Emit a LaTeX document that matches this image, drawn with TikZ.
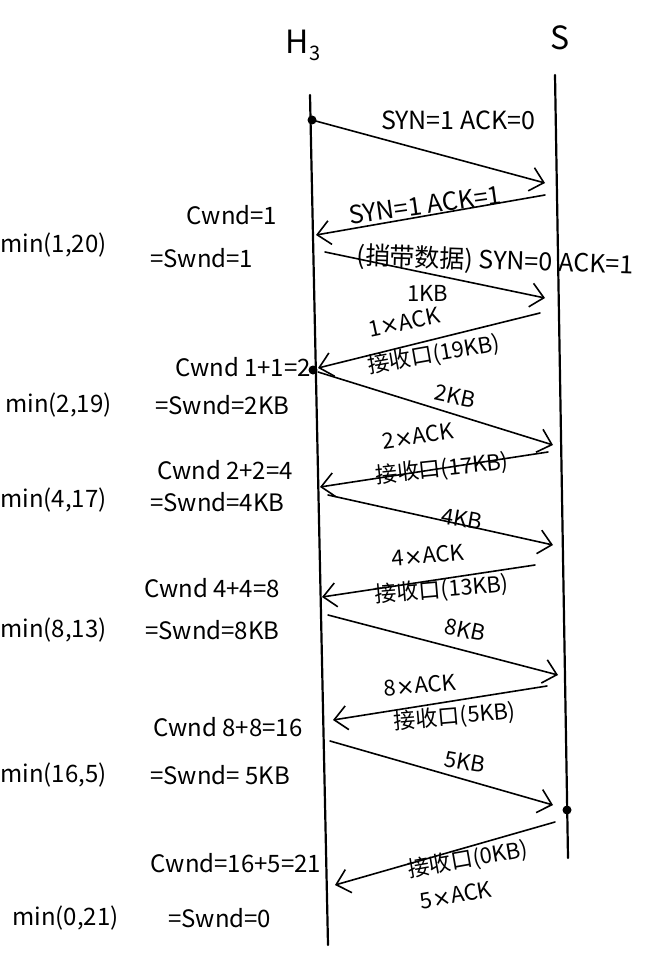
\documentclass[tikz,border=0pt]{standalone}
\usepackage{fontspec}
\setmainfont{Noto Sans CJK SC}
\newfontfamily\latx{DejaVu Sans}
\newcommand{\tms}{{\latx ×}}
\usetikzlibrary{arrows.meta}
\begin{document}
\begin{tikzpicture}[x=1pt,y=-1pt,
  life/.style={line width=2.2pt,line cap=round},
  msg/.style={line width=1.6pt,line cap=round,-{Straight Barb[length=13pt,width=24pt,line width=1.6pt]}},
  lbl/.style={font=\fontsize{22}{24}\selectfont,inner sep=0pt},
  big/.style={font=\fontsize{25}{27}\selectfont,inner sep=0pt},
  side/.style={font=\fontsize{24}{26}\selectfont,inner sep=0pt},
  head/.style={font=\fontsize{32}{34}\selectfont,inner sep=1pt},
  dot/.style={circle,fill,inner sep=0pt,minimum size=9pt}]
\useasboundingbox[fill=white] (0,0) rectangle (650,960);
% headings
\node[head] (h3) at (303,45) {H\raisebox{-7pt}{\fontsize{20}{20}\selectfont 3}};
\node[head] (s) at (560,38) {S};
% lifelines
\coordinate (h3top) at (310,95);  \coordinate (h3bot) at (328,945);
\coordinate (stop) at (555,75);   \coordinate (sbot) at (568,858);
\draw[life] (h3top) -- (h3bot);
\draw[life] (stop) -- (sbot);
% message end points
\coordinate (a1s) at (312,120);  \coordinate (a1e) at (545,183);
\coordinate (a2s) at (545,195);  \coordinate (a2e) at (316,235);
\coordinate (a3s) at (325,252);  \coordinate (a3e) at (545,298);
\coordinate (a4s) at (540,313);  \coordinate (a4e) at (318,368);
\coordinate (a5s) at (318,372);  \coordinate (a5e) at (553,445);
\coordinate (a6s) at (548,452);  \coordinate (a6e) at (320,487);
\coordinate (a7s) at (328,495);  \coordinate (a7e) at (553,545);
\coordinate (a8s) at (535,565);  \coordinate (a8e) at (322,597);
\coordinate (a9s) at (328,615);  \coordinate (a9e) at (558,675);
\coordinate (a10s) at (547,686); \coordinate (a10e) at (333,720);
\coordinate (a11s) at (330,741); \coordinate (a11e) at (553,805);
\coordinate (a12s) at (555,822); \coordinate (a12e) at (335,885);
\node[dot] (d1) at (312,120) {};
\node[dot] (d2) at (313,370) {};
\node[dot] (d3) at (567,810) {};
% messages
\draw[msg] (a1s) -- (a1e);
\draw[msg] (a2s) -- (a2e);
\draw[msg] (a3s) -- (a3e);
\draw[msg] (a4s) -- (a4e);
\draw[msg] (a5s) -- (a5e);
\draw[msg] (a6s) -- (a6e);
\draw[msg] (a7s) -- (a7e);
\draw[msg] (a8s) -- (a8e);
\draw[msg] (a9s) -- (a9e);
\draw[msg] (a10s) -- (a10e);
\draw[msg] (a11s) -- (a11e);
\draw[msg] (a12s) -- (a12e);
% message labels
\node[big] (l1) at (458,120) {SYN=1 ACK=0};
\node[big,rotate=8] (l2) at (425,205) {SYN=1 ACK=1};
\node[big,rotate=-2] (l3) at (495,261) {(捎带数据) SYN=0 ACK=1};
\node[lbl] (l3b) at (428,293) {1KB};
\node[lbl,rotate=12] (l4a) at (404,322) {1\tms ACK};
\node[lbl,rotate=10] (l4b) at (434,355) {接收口(19KB)};
\node[lbl,rotate=-12] (l5) at (455,396) {2KB};
\node[lbl,rotate=8] (l6a) at (418,436) {2\tms ACK};
\node[lbl,rotate=6] (l6b) at (442,469) {接收口(17KB)};
\node[lbl,rotate=-10] (l7) at (462,519) {4KB};
\node[lbl,rotate=5] (l8a) at (428,555) {4\tms ACK};
\node[lbl,rotate=5] (l8b) at (442,590) {接收口(13KB)};
\node[lbl,rotate=-12] (l9) at (465,630) {8KB};
\node[lbl,rotate=5] (l10a) at (420,685) {8\tms ACK};
\node[lbl,rotate=5] (l10b) at (455,717) {接收口(5KB)};
\node[lbl,rotate=-10] (l11) at (465,762) {5KB};
\node[lbl,rotate=10] (l12a) at (468,860) {接收口(0KB)};
\node[lbl,rotate=10] (l12b) at (456,895) {5\tms ACK};
% side labels
\node[side] (c1) at (232,215) {Cwnd=1};
\node[side,anchor=west] (m1) at (0,245) {min(1,20)};
\node[side,anchor=west] (w1) at (150,258) {=Swnd=1};
\node[side] (c2) at (243,367) {Cwnd 1+1=2};
\node[side,anchor=west] (m2) at (5,405) {min(2,19)};
\node[side,anchor=west] (w2) at (155,405) {=Swnd=2KB};
\node[side] (c3) at (225,470) {Cwnd 2+2=4};
\node[side,anchor=west] (m3) at (0,500) {min(4,17)};
\node[side,anchor=west] (w3) at (150,502) {=Swnd=4KB};
\node[side] (c4) at (212,588) {Cwnd 4+4=8};
\node[side,anchor=west] (m4) at (0,630) {min(8,13)};
\node[side,anchor=west] (w4) at (145,630) {=Swnd=8KB};
\node[side] (c5) at (228,727) {Cwnd 8+8=16};
\node[side,anchor=west] (m5) at (0,775) {min(16,5)};
\node[side,anchor=west] (w5) at (150,775) {=Swnd= 5KB};
\node[side] (c6) at (236,863) {Cwnd=16+5=21};
\node[side,anchor=west] (m6) at (12,918) {min(0,21)};
\node[side,anchor=west] (w6) at (168,918) {=Swnd=0};
\end{tikzpicture}
\end{document}
